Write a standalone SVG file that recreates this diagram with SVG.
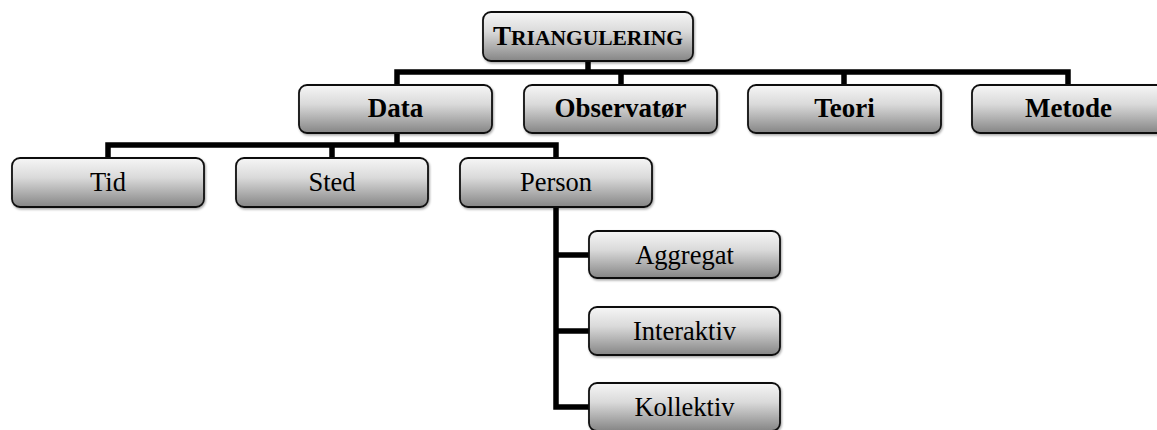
<svg xmlns="http://www.w3.org/2000/svg" width="1157" height="430" viewBox="0 0 1157 430">
<defs>
<linearGradient id="g" x1="0" y1="0" x2="0" y2="1">
<stop offset="0" stop-color="#f6f6f6"/>
<stop offset="0.4" stop-color="#dadada"/>
<stop offset="1" stop-color="#858585"/>
</linearGradient>
<filter id="sh" x="-5%" y="-10%" width="110%" height="130%">
<feDropShadow dx="1" dy="1.5" stdDeviation="1" flood-color="#000" flood-opacity="0.35"/>
</filter>
</defs>
<style>
.box{fill:url(#g);stroke:#111;stroke-width:1.8;filter:url(#sh)}
.c{fill:none;stroke:#000;stroke-width:5.5;stroke-linejoin:miter;stroke-linecap:butt}
text{font-family:"Liberation Serif","Times New Roman",serif;fill:#000;text-anchor:middle}
.b{font-weight:bold;font-size:27px}
.r{font-size:26.5px}
</style>
<g id="connectors">
<path class="c" d="M588 61V72M397 85V72H1068V85M621 72V85M844 72V85"/>
<path class="c" d="M397 133V145M108 158V145H556V158M332 145V158"/>
<path class="c" d="M556 207V407H589M556 255H589M556 331H589"/>
</g>
<g id="n-triangulering"><rect class="box" x="483" y="12" width="210" height="49" rx="8"/><text class="b" x="588" y="45"><tspan font-size="27">T</tspan><tspan font-size="21.5">RIANGULERING</tspan></text></g>
<g id="n-data"><rect class="box" x="299" y="85" width="193" height="48" rx="8"/><text class="b" x="395.5" y="117">Data</text></g>
<g id="n-observator"><rect class="box" x="524" y="85" width="193" height="48" rx="8"/><text class="b" x="620.5" y="117">Observatør</text></g>
<g id="n-teori"><rect class="box" x="748" y="85" width="193" height="48" rx="8"/><text class="b" x="844.5" y="117">Teori</text></g>
<g id="n-metode"><rect class="box" x="972" y="85" width="193" height="48" rx="8"/><text class="b" x="1068.5" y="117">Metode</text></g>
<g id="n-tid"><rect class="box" x="12" y="158" width="192" height="49" rx="8"/><text class="r" x="108" y="191">Tid</text></g>
<g id="n-sted"><rect class="box" x="236" y="158" width="192" height="49" rx="8"/><text class="r" x="332" y="191">Sted</text></g>
<g id="n-person"><rect class="box" x="460" y="158" width="192" height="49" rx="8"/><text class="r" x="556" y="191">Person</text></g>
<g id="n-aggregat"><rect class="box" x="589" y="231" width="191" height="47" rx="8"/><text class="r" x="684.5" y="264">Aggregat</text></g>
<g id="n-interaktiv"><rect class="box" x="589" y="307" width="191" height="48" rx="8"/><text class="r" x="684.5" y="340">Interaktiv</text></g>
<g id="n-kollektiv"><rect class="box" x="589" y="383" width="191" height="48" rx="8"/><text class="r" x="684.5" y="416">Kollektiv</text></g>
</svg>
